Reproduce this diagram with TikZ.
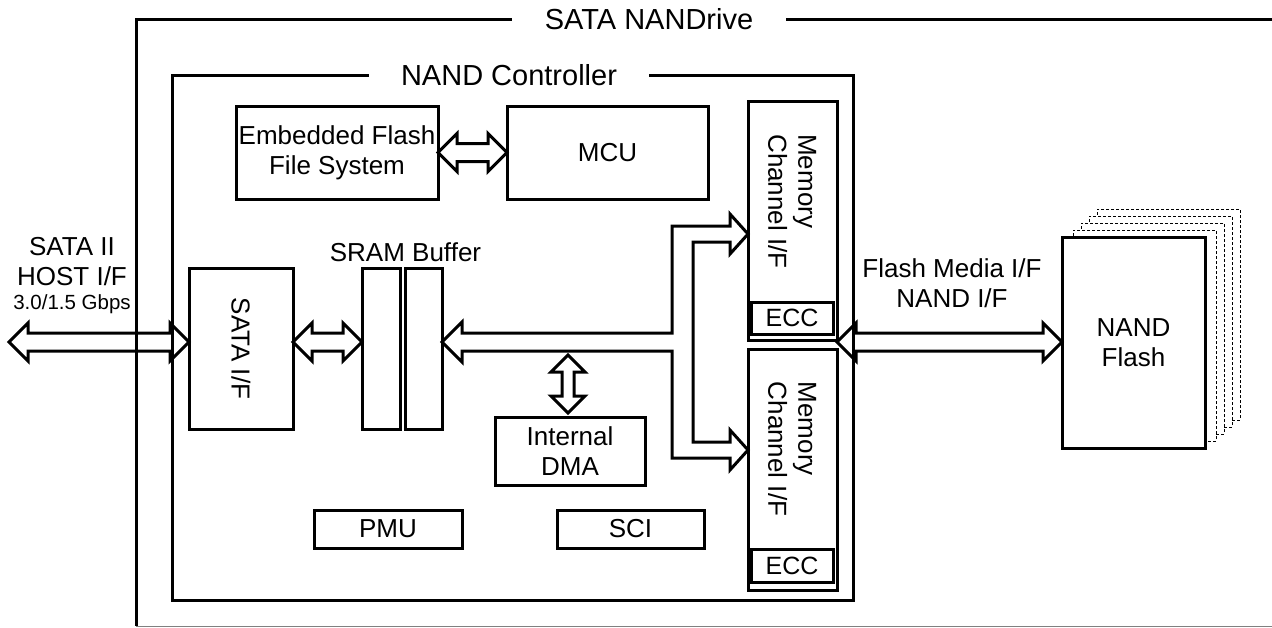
\documentclass[tikz,border=0pt]{standalone}
\usepackage{fontspec}
\setmainfont{Liberation Sans}
\usetikzlibrary{calc}

\newcommand{\hfat}[2]{%
  \draw[fat] let \p1=(#1), \p2=(#2) in
    (\p1) -- (\x1+19pt,\y1+19pt) -- (\x1+19pt,\y1+9pt) -- (\x2-19pt,\y1+9pt) -- (\x2-19pt,\y1+19pt)
    -- (\x2,\y1) -- (\x2-19pt,\y1-19pt) -- (\x2-19pt,\y1-9pt) -- (\x1+19pt,\y1-9pt) -- (\x1+19pt,\y1-19pt) -- cycle;}
\newcommand{\vfat}[2]{%
  \draw[fat] let \p1=(#1), \p2=(#2) in
    (\p1) -- (\x1+17pt,\y1-17pt) -- (\x1+6pt,\y1-17pt) -- (\x1+6pt,\y2+17pt) -- (\x1+17pt,\y2+17pt)
    -- (\x1,\y2) -- (\x1-17pt,\y2+17pt) -- (\x1-6pt,\y2+17pt) -- (\x1-6pt,\y1-17pt) -- (\x1-17pt,\y1-17pt) -- cycle;}

\begin{document}
\begin{tikzpicture}[x=1pt, y=-1pt,
    box/.style={draw, line width=3pt, inner sep=0pt, outer sep=0pt, align=center, font=\fontsize{26}{30}\selectfont},
    txt/.style={inner sep=0pt, align=center, font=\fontsize{26}{30}\selectfont},
    rim/.style={line width=3pt},
    fat/.style={line width=3pt},
    ghost/.style={draw, dash pattern=on 3pt off 2pt, line width=1pt, fill=white, minimum width=143pt, minimum height=211pt, inner sep=0pt}]
    \useasboundingbox (0,0) rectangle (1272,627);

    \node[txt, font=\fontsize{29}{33}\selectfont, inner xsep=33pt] (drvtitle) at (649,19) {SATA NANDrive};
    \draw[rim] (drvtitle.west) -| (136,626);
    \draw[rim] (drvtitle.east) -- (1272,19);
    \draw[gray, line width=1pt] (136,626) -- (1272,626);

    \node[txt, font=\fontsize{29}{33}\selectfont, inner xsep=32pt] (ctltitle) at (509,75) {NAND Controller};
    \draw[rim] (ctltitle.west) -| (172,600) -| (853,75) -- (ctltitle.east);

    \node[box, minimum width=202pt, minimum height=93pt] (effs) at (337,152.5) {Embedded Flash\\File System};
    \node[box, minimum width=201pt, minimum height=93pt] (mcu) at (607.5,152.5) {MCU};

    \node[box, minimum width=89pt, minimum height=239pt] (mc1) at (792.5,220.5) {};
    \node[box, minimum width=82pt, minimum height=32pt, font=\fontsize{25}{30}\selectfont] (ecc1) at (792,318) {ECC};
    \node[txt, align=left, rotate=-90] (mc1txt) at ($(mc1.north)!0.5!(ecc1.north)$) {Memory\\Channel I/F};
    \node[box, minimum width=89pt, minimum height=241pt] (mc2) at (792.5,469.5) {};
    \node[box, minimum width=82pt, minimum height=33pt, font=\fontsize{25}{30}\selectfont] (ecc2) at (792,565.5) {ECC};
    \node[txt, align=left, rotate=-90] (mc2txt) at ($(mc2.north)!0.5!(ecc2.north)$) {Memory\\Channel I/F};

    \node[box, minimum width=104pt, minimum height=161pt] (sataif) at (241,348.5) {};
    \node[txt, rotate=-90] (sataiftxt) at (sataif.center) {SATA I/F};
    \node[box, minimum width=38pt, minimum height=161pt] (sram1) at (381,348.5) {};
    \node[box, minimum width=37pt, minimum height=161pt] (sram2) at (423.5,348.5) {};
    \node[txt] (sramlbl) at (405.5,252) {SRAM Buffer};

    \node[box, minimum width=150pt, minimum height=68pt] (dma) at (570,451) {Internal\\DMA};
    \node[box, minimum width=148pt, minimum height=38pt] (pmu) at (388,529) {PMU};
    \node[box, minimum width=147pt, minimum height=38pt] (sci) at (630.5,529) {SCI};

    \foreach \k in {4,3,2,1}
        \node[ghost] (nand\k) at (1136.5+8*\k, 342.5-7*\k) {};
    \node[box, fill=white, minimum width=143pt, minimum height=211pt] (nand) at (1133.5,342.5) {NAND\\Flash};

    \node[txt] (hostlbl) at (72,262) {SATA II\\HOST I/F};
    \node[txt, font=\fontsize{20.5}{24}\selectfont] (speedlbl) at (72,304.5) {3.0/1.5 Gbps};
    \node[txt] (medialbl) at (952,283.5) {Flash Media I/F\\NAND I/F};

    \coordinate (hostend) at (9,342);
    \coordinate (mc1in) at ($(mc1.north west)+(0,133)$);
    \coordinate (mc2in) at ($(mc2.north west)+(0,101)$);
    \coordinate (dmatop) at ($(dma.north)+(-2,-62)$);
    \coordinate (dmabot) at ($(dma.north)+(-2,-4)$);

    \hfat{hostend}{sataif.west |- hostend}
    \hfat{sataif.east |- hostend}{sram1.west |- hostend}
    \hfat{effs.east}{mcu.west}
    \hfat{mc1.east |- hostend}{nand.west}
    \vfat{dmatop}{dmabot}
    \draw[fat] let \p1=(sram2.east |- hostend), \p2=(mc1in), \p3=(mc2in) in
        (\p1) -- (\x1+20pt,\y1+20pt) -- (\x1+20pt,\y1+9pt) -- (\x2-76pt,\y1+9pt) -- (\x2-76pt,\y2+8pt)
        -- (\x2-18pt,\y2+8pt) -- (\x2-18pt,\y2+20pt) -- (\p2) -- (\x2-18pt,\y2-20pt) -- (\x2-18pt,\y2-8pt)
        -- (\x3-55pt,\y2-8pt) -- (\x3-55pt,\y3+8pt) -- (\x3-18pt,\y3+8pt) -- (\x3-18pt,\y3+20pt) -- (\p3)
        -- (\x3-18pt,\y3-20pt) -- (\x3-18pt,\y3-8pt) -- (\x3-76pt,\y3-8pt) -- (\x3-76pt,\y1-9pt)
        -- (\x1+20pt,\y1-9pt) -- (\x1+20pt,\y1-20pt) -- cycle;
\end{tikzpicture}
\end{document}
